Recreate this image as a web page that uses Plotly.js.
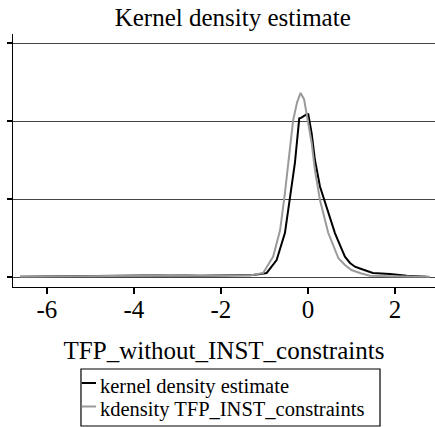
<!DOCTYPE html>
<html>
<head>
<meta charset="utf-8">
<script src="https://cdn.plot.ly/plotly-3.0.1.min.js"></script>
<style>html,body{margin:0;padding:0;background:#fff;}#chart{width:435px;height:427px;}</style>
</head>
<body>
<div id="chart"></div>
<script>
// Series 1: kernel density estimate (black)
const blackX = [-6.62, -5.5, -4.5, -3.86, -3.17, -2.48, -1.79, -1.26, -0.95, -0.72, -0.53, -0.41, -0.30, -0.20, -0.16, -0.03, 0.007, 0.085, 0.16, 0.276, 0.39, 0.62, 0.736, 0.85, 0.966, 1.08, 1.195, 1.49, 1.885, 2.27, 2.73];
const blackY = [0.002, 0.004, 0.006, 0.008, 0.012, 0.008, 0.01, 0.013, 0.026, 0.109, 0.282, 0.515, 0.731, 1.017, 1.02, 1.043, 1.043, 0.92, 0.75, 0.58, 0.48, 0.282, 0.205, 0.13, 0.09, 0.066, 0.055, 0.026, 0.019, 0.008, 0.002];
// Series 2: kdensity TFP_INST_constraints (gray)
const grayX = [-6.62, -5.24, -4.5, -3.86, -3.17, -2.48, -1.79, -1.33, -1.03, -0.80, -0.64, -0.53, -0.41, -0.34, -0.25, -0.17, -0.09, 0.007, 0.085, 0.16, 0.276, 0.467, 0.70, 0.85, 1.0, 1.21, 1.425, 1.885, 2.34, 2.80];
const grayY = [0.002, 0.004, 0.006, 0.008, 0.013, 0.008, 0.01, 0.01, 0.026, 0.131, 0.301, 0.538, 0.835, 1.006, 1.12, 1.18, 1.14, 0.987, 0.86, 0.686, 0.494, 0.282, 0.12, 0.077, 0.045, 0.024, 0.008, 0.005, 0.004, 0.002];
const xTicks = [-6, -4, -2, 0, 2];
const yTicks = [0, 0.5, 1, 1.5];
const names = ['kernel density estimate', 'kdensity TFP_INST_constraints'];
const colors = ['#000000', '#9a9a9a'];

const serif = 'Liberation Serif';
const traces = [
  {x: blackX, y: blackY, type: 'scatter', mode: 'lines', name: names[0], line: {color: colors[0], width: 2}},
  {x: grayX, y: grayY, type: 'scatter', mode: 'lines', name: names[1], line: {color: colors[1], width: 2}}
];

// legend drawn as a boxed key below the plot (paper coordinates)
const legRowY = [-0.3794, -0.4723];
const shapes = [
  {type: 'rect', xref: 'paper', yref: 'paper', x0: 0.1611, x1: 0.8697, y0: -0.5494, y1: -0.3241,
   line: {color: '#000', width: 1.2}, fillcolor: 'rgba(0,0,0,0)'}
];
const annotations = [];
names.forEach((n, i) => {
  shapes.push({type: 'line', xref: 'paper', yref: 'paper', x0: 0.163, x1: 0.1967, y0: legRowY[i], y1: legRowY[i],
    line: {color: colors[i], width: 2}});
  annotations.push({xref: 'paper', yref: 'paper', x: 0.2035, y: legRowY[i] - 0.012, xanchor: 'left', yanchor: 'middle',
    text: n, showarrow: false, borderpad: 0, font: {family: serif, size: 20.5, color: '#000'}});
});

const layout = {
  width: 435, height: 427,
  margin: {l: 13, r: 0, t: 34, b: 140, autoexpand: false},
  paper_bgcolor: '#ffffff', plot_bgcolor: '#ffffff',
  font: {family: serif, color: '#000000', size: 24},
  title: {text: 'Kernel density estimate', font: {family: serif, size: 25, color: '#000'}, x: 0.535, xanchor: 'center', yref: 'container', y: 0.98, yanchor: 'top'},
  xaxis: {
    range: [-6.78, 2.92], tickvals: xTicks, ticktext: xTicks.map(String),
    ticks: 'outside', ticklen: 6, tickcolor: '#000', tickwidth: 1.3,
    ticklabelstandoff: -6,
    showline: true, linecolor: '#000', linewidth: 1.3, showgrid: false, zeroline: false,
    tickfont: {family: serif, size: 25, color: '#000'}, automargin: false,
    title: {text: 'TFP_without_INST_constraints', font: {family: serif, size: 25, color: '#000'}, standoff: 19}
  },
  yaxis: {
    range: [-0.064, 1.558], tickvals: yTicks, showticklabels: false,
    ticks: 'outside', ticklen: 5, tickcolor: '#000', tickwidth: 1.3,
    showline: true, linecolor: '#000', linewidth: 1.3, automargin: false,
    showgrid: true, gridcolor: '#444444', gridwidth: 1, zeroline: false
  },
  showlegend: false,
  shapes: shapes,
  annotations: annotations
};
Plotly.newPlot('chart', traces, layout, {displayModeBar: false, staticPlot: true});
</script>
</body>
</html>
